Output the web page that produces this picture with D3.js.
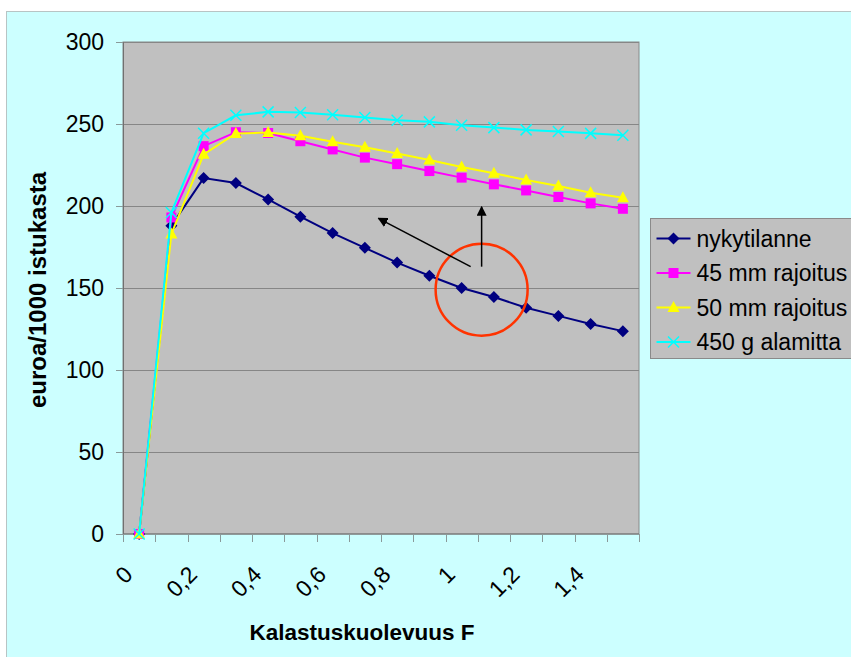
<!DOCTYPE html>
<html>
<head>
<meta charset="utf-8">
<script src="https://cdn.jsdelivr.net/npm/d3@7"></script>
<style>
  body { margin: 0; background: #fff; }
  svg { display: block; font-family: "Liberation Sans", Arial, sans-serif; }
</style>
</head>
<body>
<div id="chart"></div>
<script>
// DATA
const categories = [0, 0.1, 0.2, 0.3, 0.4, 0.5, 0.6, 0.7, 0.8, 0.9, 1.0, 1.1, 1.2, 1.3, 1.4, 1.5];
const tickCategories = [0, 0.2, 0.4, 0.6, 0.8, 1.0, 1.2, 1.4];
const tickLabels = ["0", "0,2", "0,4", "0,6", "0,8", "1", "1,2", "1,4"];
const yTicks = [0, 50, 100, 150, 200, 250, 300];

const nykytilanne = [0, 188, 217, 214, 204, 193.5, 183.5, 174.5, 165.5, 157.5, 150, 144.5, 138, 133, 128, 123.7];
const rajoitus45 = [0, 193, 236.5, 245, 244.5, 239.5, 234.5, 229.5, 225.5, 221.3, 217.3, 213.2, 209.5, 205.5, 201.6, 198.3];
const rajoitus50 = [0, 183, 231.5, 244.2, 244.8, 242.8, 239.2, 235.8, 232, 228, 223.8, 220, 215.8, 212.2, 208.1, 205];
const alamitta450 = [0, 196, 244.4, 255.3, 257.4, 257, 255.6, 254, 252.3, 251.3, 249.2, 247.8, 246.4, 245.4, 244.3, 243.1];

const seriesNames = ["nykytilanne", "45 mm rajoitus", "50 mm rajoitus", "450 g alamitta"];
const seriesValues = [nykytilanne, rajoitus45, rajoitus50, alamitta450];
const seriesColors = ["#000080", "#ff00ff", "#ffff00", "#00ffff"];
const seriesMarkers = ["diamond", "square", "triangle", "x"];

// annotation, in category index / value units
const circleCenter = { i: 10.62, v: 149 };
const arrows = [
  { from: { i: 10.28, v: 163 }, to: { i: 7.42, v: 192.5 } },
  { from: { i: 10.62, v: 163 }, to: { i: 10.62, v: 199.5 } }
];

// LAYOUT
const W = 851, H = 657;
const plot = { left: 123, top: 42, right: 639, bottom: 534 };

const svg = d3.select("#chart").append("svg")
  .attr("width", W).attr("height", H);

svg.append("defs").append("marker")
  .attr("id", "arrowhead")
  .attr("viewBox", "0 0 10 10")
  .attr("refX", 9).attr("refY", 5)
  .attr("markerWidth", 10).attr("markerHeight", 10)
  .attr("markerUnits", "userSpaceOnUse")
  .attr("orient", "auto")
  .append("path").attr("d", "M0,0 L10,5 L0,10 Z").attr("fill", "#000");

// chart area background
svg.append("rect")
  .attr("x", 6.5).attr("y", 11.5)
  .attr("width", W + 20).attr("height", H + 20)
  .attr("fill", "#ccffff").attr("stroke", "#b8c4c4");

const x = d3.scaleBand().domain(categories).range([plot.left, plot.right]).padding(0);
const xi = i => plot.left + (i + 0.5) * x.step();
const y = d3.scaleLinear().domain([0, 300]).range([plot.bottom, plot.top]);

// plot area
svg.append("rect")
  .attr("x", plot.left).attr("y", plot.top)
  .attr("width", plot.right - plot.left).attr("height", plot.bottom - plot.top)
  .attr("fill", "#c0c0c0").attr("stroke", "#8a8a8a");

// gridlines
svg.append("g").selectAll("line")
  .data(yTicks.filter(d => d > 0))
  .join("line")
  .attr("x1", plot.left).attr("x2", plot.right)
  .attr("y1", d => Math.round(y(d)) + 0.5).attr("y2", d => Math.round(y(d)) + 0.5)
  .attr("stroke", "#868686");

// y axis
const yAxis = svg.append("g")
  .attr("transform", `translate(${plot.left},0)`)
  .call(d3.axisLeft(y).tickValues(yTicks).tickSize(7).tickPadding(12));
yAxis.select(".domain").attr("stroke", "#707070");
yAxis.selectAll(".tick line").attr("stroke", "#8a9a9a");
yAxis.selectAll("text").attr("font-size", 23).attr("fill", "#000")
  .attr("font-family", "Liberation Sans, Arial, sans-serif");

// x axis: ticks on category boundaries
const xAxisG = svg.append("g").attr("transform", `translate(0,${plot.bottom})`);
xAxisG.append("line")
  .attr("x1", plot.left).attr("x2", plot.right)
  .attr("stroke", "#707070");
xAxisG.selectAll("line.tk")
  .data(d3.range(categories.length + 1))
  .join("line").attr("class", "tk")
  .attr("x1", i => Math.round(plot.left + i * x.step()) + 0.5)
  .attr("x2", i => Math.round(plot.left + i * x.step()) + 0.5)
  .attr("y1", 0).attr("y2", 8)
  .attr("stroke", "#8a9a9a");
xAxisG.selectAll("text")
  .data(tickCategories)
  .join("text")
  .attr("transform", d => `translate(${x(d) + x.bandwidth() / 2 - 5},42) rotate(-45)`)
  .attr("text-anchor", "end")
  .attr("font-size", 23)
  .text((d, i) => tickLabels[i]);

// axis titles
svg.append("text")
  .attr("x", 362).attr("y", 640)
  .attr("text-anchor", "middle")
  .attr("font-size", 22.5).attr("font-weight", "bold")
  .text("Kalastuskuolevuus F");
svg.append("text")
  .attr("transform", "translate(46,290) rotate(-90)")
  .attr("text-anchor", "middle")
  .attr("font-size", 24).attr("font-weight", "bold")
  .text("euroa/1000 istukasta");

// marker shapes
function markerPath(type) {
  if (type === "diamond") return "M0,-6L6,0L0,6L-6,0Z";
  if (type === "square") return "M-5,-5H5V5H-5Z";
  if (type === "triangle") return "M0,-6.5L6,4.5H-6Z";
  return "M-5.5,-5.5L5.5,5.5M5.5,-5.5L-5.5,5.5";
}
function drawMarker(g, type, color) {
  const p = g.append("path").attr("d", markerPath(type));
  if (type === "x") p.attr("fill", "none").attr("stroke", color).attr("stroke-width", 1.5);
  else p.attr("fill", color);
}

// series
const line = d3.line().x((d, i) => x(categories[i]) + x.bandwidth() / 2).y(d => y(d));
seriesValues.forEach((vals, s) => {
  const g = svg.append("g");
  g.append("path")
    .datum(vals)
    .attr("d", line)
    .attr("fill", "none")
    .attr("stroke", seriesColors[s])
    .attr("stroke-width", 2);
  g.selectAll("g.m")
    .data(vals)
    .join("g").attr("class", "m")
    .attr("transform", (d, i) => `translate(${x(categories[i]) + x.bandwidth() / 2},${y(d)})`)
    .each(function () { drawMarker(d3.select(this), seriesMarkers[s], seriesColors[s]); });
});

// annotation
svg.append("circle")
  .attr("cx", xi(circleCenter.i)).attr("cy", y(circleCenter.v))
  .attr("r", 46)
  .attr("fill", "none").attr("stroke", "#ff3300").attr("stroke-width", 2.5);
svg.selectAll("line.arrow")
  .data(arrows)
  .join("line").attr("class", "arrow")
  .attr("x1", d => xi(d.from.i)).attr("y1", d => y(d.from.v))
  .attr("x2", d => xi(d.to.i)).attr("y2", d => y(d.to.v))
  .attr("stroke", "#000").attr("stroke-width", 1.5)
  .attr("marker-end", "url(#arrowhead)");

// legend
const legend = svg.append("g").attr("transform", "translate(650.5,218.5)");
legend.append("rect")
  .attr("width", 240).attr("height", 140)
  .attr("fill", "#c0c0c0").attr("stroke", "#8a8a8a");
seriesNames.forEach((name, s) => {
  const row = legend.append("g").attr("transform", `translate(0,${20 + s * 34.5})`);
  row.append("line")
    .attr("x1", 6).attr("x2", 40)
    .attr("stroke", seriesColors[s]).attr("stroke-width", 2);
  drawMarker(row.append("g").attr("transform", "translate(23,0)"), seriesMarkers[s], seriesColors[s]);
  row.append("text")
    .attr("x", 46).attr("y", 8)
    .attr("font-size", 23)
    .text(name);
});
</script>
</body>
</html>
